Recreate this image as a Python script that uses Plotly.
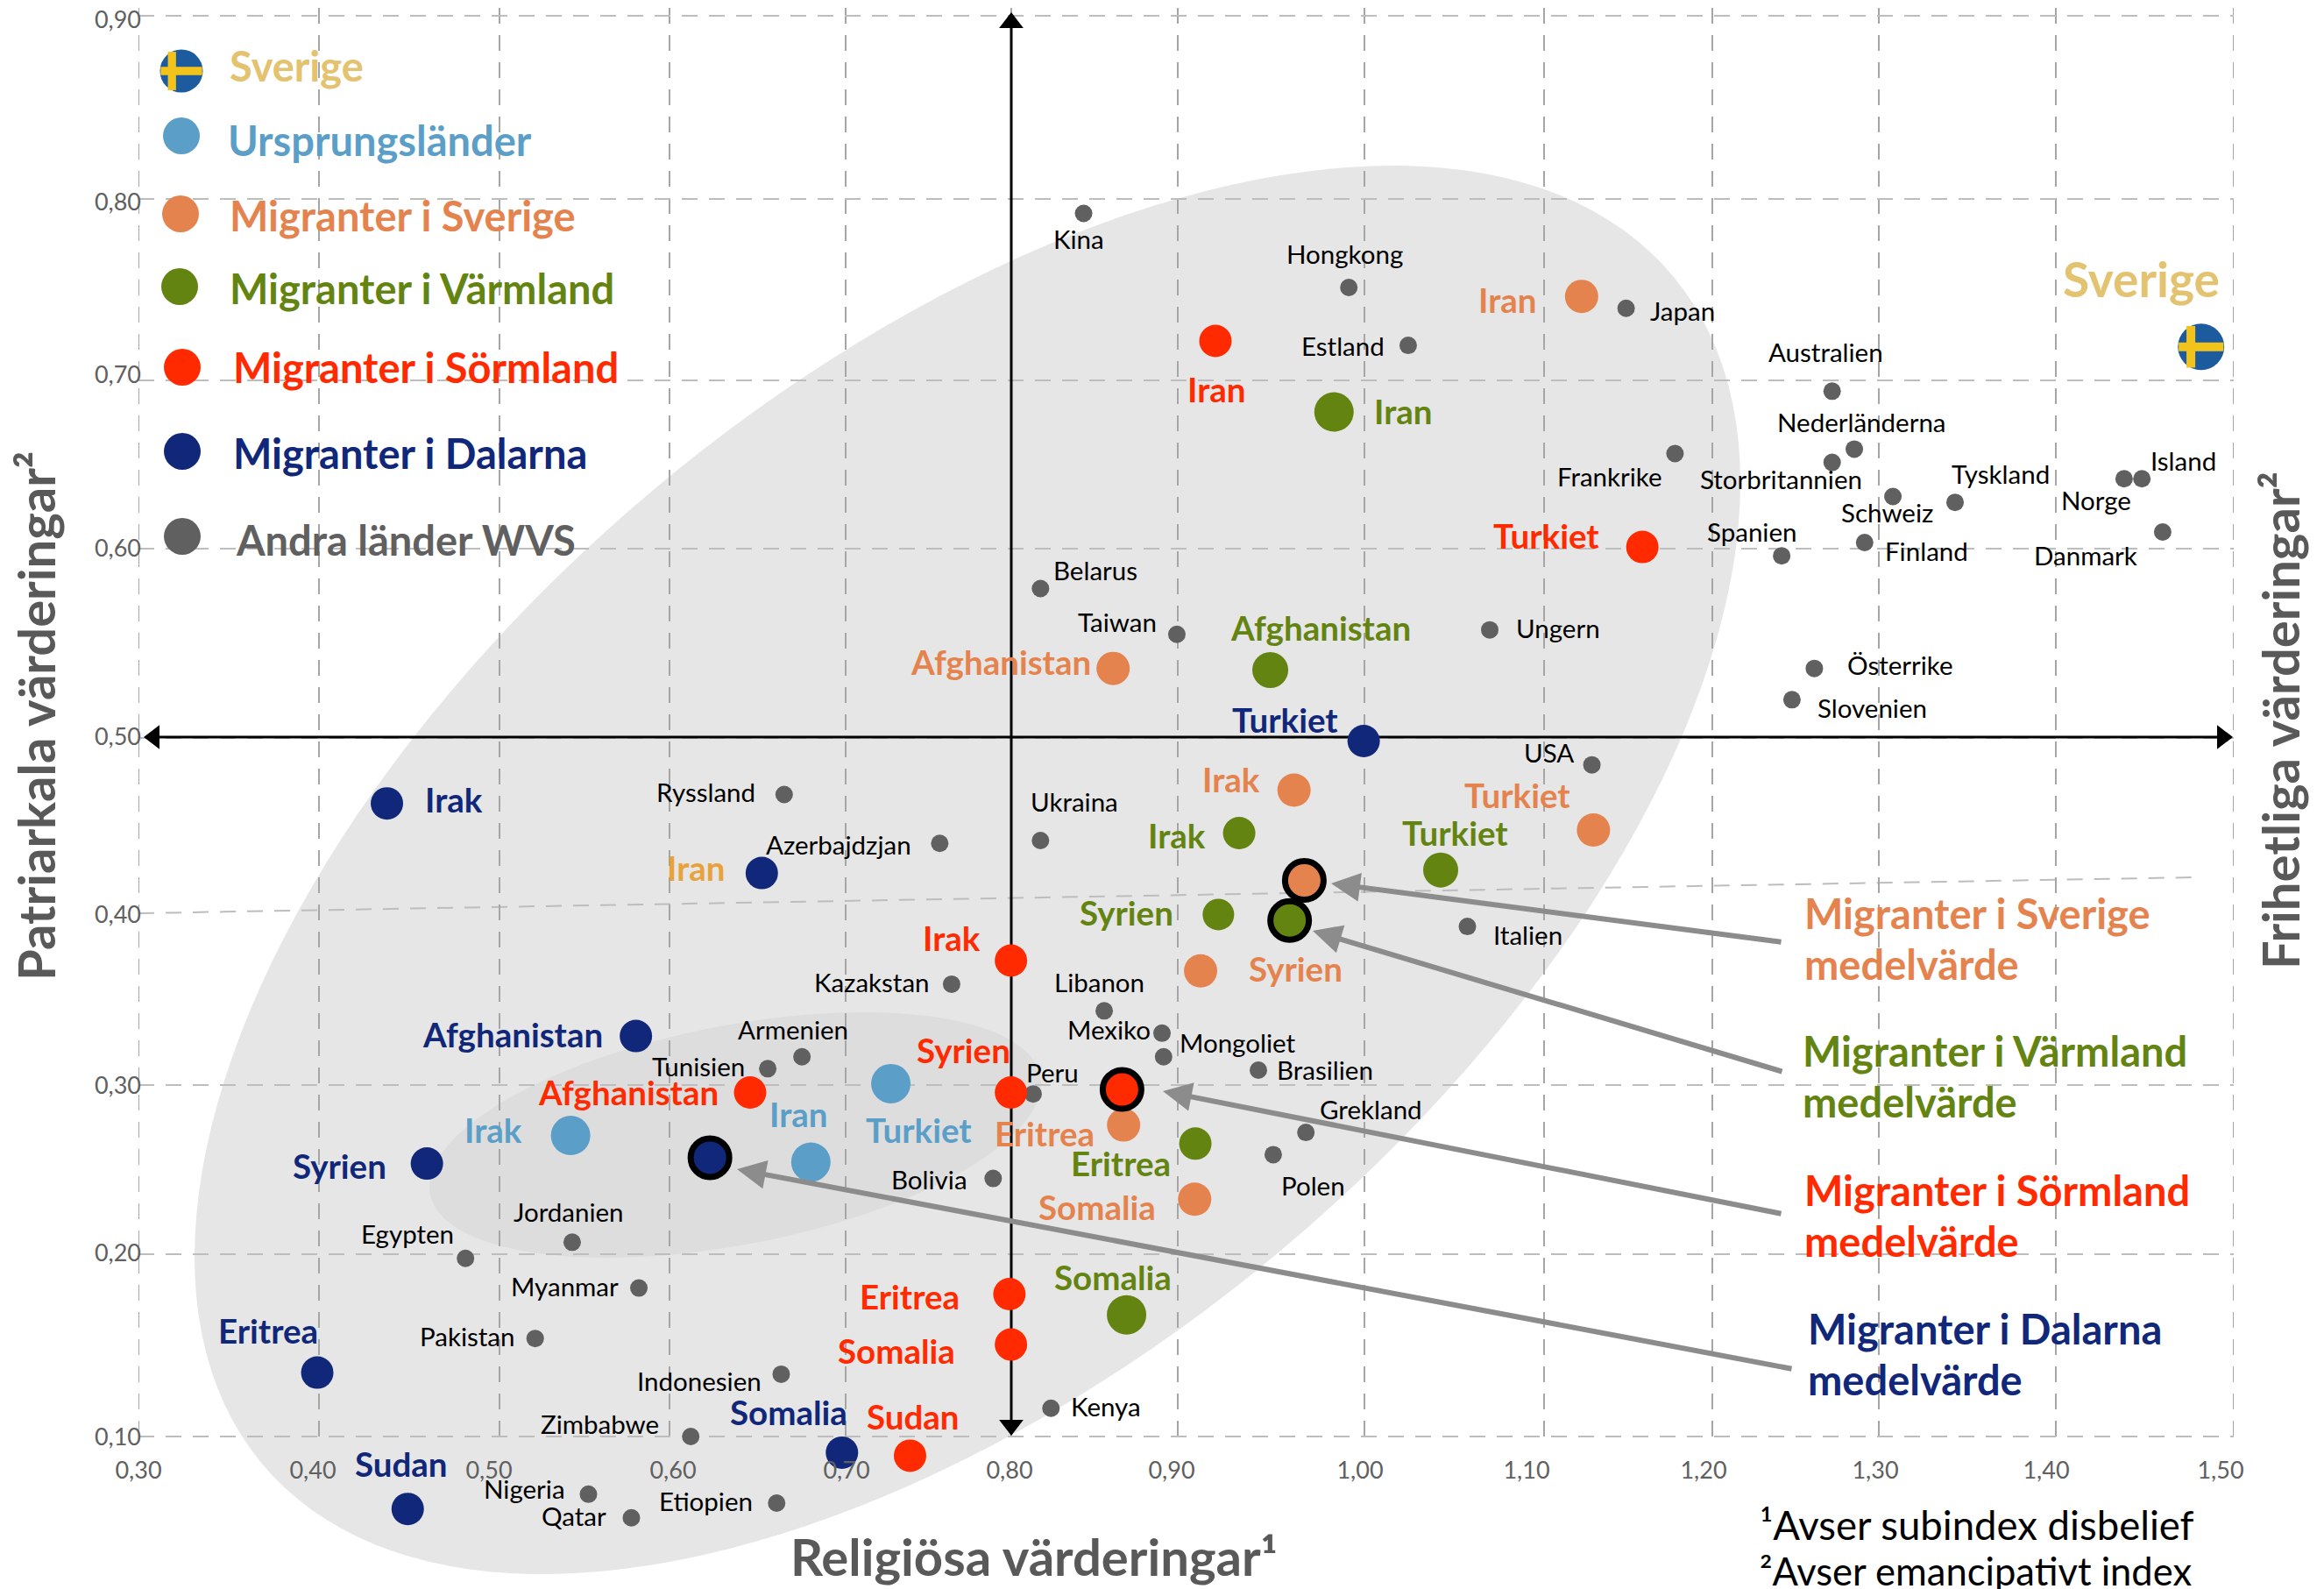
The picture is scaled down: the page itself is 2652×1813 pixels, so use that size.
import numpy as np
import plotly.graph_objects as go

# ---------- DATA (on the chart's own axes) ----------
WVS_NAMES = ["Kina","Hongkong","Japan","Estland","Australien","Frankrike","Nederländerna","Storbritannien","Schweiz","Tyskland","Norge","Island","Danmark","Spanien","Finland","Belarus","Taiwan","Ungern","Österrike","Slovenien","USA","Ryssland","Azerbajdzjan","Ukraina","Italien","Kazakstan","Libanon","Mexiko","Mongoliet","Brasilien","Armenien","Tunisien","Peru","Grekland","Polen","Bolivia","Jordanien","Egypten","Myanmar","Pakistan","Indonesien","Kenya","Zimbabwe","Nigeria","Qatar","Etiopien"]
WVS_X = [.8413,.9932,1.1520,1.0272,1.2700,1.1800,1.2827,1.2700,1.3048,1.3404,1.4372,1.4474,1.4593,1.2411,1.2886,.8166,.8947,1.0739,1.2598,1.2470,1.1324,.6698,.7589,.8166,1.0611,.7657,.8531,.8862,.8871,.9414,.6800,.6604,.8124,.9686,.9499,.7895,.5484,.4873,.5866,.5272,.6681,.8226,.6163,.5577,.5823,.6655]
WVS_Y = [.7887,.7470,.7353,.7144,.6886,.6535,.6560,.6485,.6293,.6260,.6393,.6393,.6093,.5959,.6034,.5775,.5517,.5542,.5325,.5149,.4782,.4615,.4340,.4356,.3872,.3547,.3397,.3271,.3138,.3063,.3138,.3071,.2929,.2712,.2587,.2453,.2094,.2003,.1836,.1552,.1351,.1159,.1000,.0675,.0542,.0625]

ORIGIN_NAMES = ["Irak","Iran","Turkiet"]
ORIGIN_X = [.5475,.6851,.7309]
ORIGIN_Y = [.2695,.2545,.2987]

SVERIGE_NAMES = ["Iran","Afghanistan","Irak","Turkiet","Syrien","Eritrea","Somalia"]
SVERIGE_X = [1.1265,.8582,.9618,1.1333,.9083,.8642,.9049]
SVERIGE_Y = [.7420,.5325,.4640,.4415,.3622,.2754,.2336]

VARMLAND_NAMES = ["Iran","Afghanistan","Irak","Turkiet","Syrien","Eritrea","Somalia"]
VARMLAND_X = [.9847,.9482,.9304,1.0458,.9185,.9053,.8659]
VARMLAND_Y = [.6769,.5316,.4398,.4190,.3939,.2649,.1685]

SORMLAND_NAMES = ["Iran","Turkiet","Irak","Afghanistan","Syrien","Eritrea","Somalia","Sudan"]
SORMLAND_X = [.9168,1.1613,.7997,.6503,.7997,.7988,.7997,.7419]
SORMLAND_Y = [.7169,.6009,.3680,.2937,.2937,.1802,.1518,.0892]

DALARNA_NAMES = ["Irak","Iran","Turkiet","Afghanistan","Syrien","Eritrea","Somalia","Sudan"]
DALARNA_X = [.4423,.6570,1.0017,.5849,.4652,.4024,.7029,.4542]
DALARNA_Y = [.4565,.4173,.4916,.3255,.2537,.1360,.0909,.0592]

MEAN_GROUPS = ["Migranter i Sverige","Migranter i Värmland","Migranter i Sörmland","Migranter i Dalarna"]
MEAN_X = [.9677,.9593,.8633,.6273]
MEAN_Y = [.4131,.3906,.2954,.2570]

SWEDEN_X = [1.4813]
SWEDEN_Y = [.7136]

TICK_TEXT_X = ["0,30","0,40","0,50","0,60","0,70","0,80","0,90","1,00","1,10","1,20","1,30","1,40","1,50"]
TICK_TEXT_Y = ["0,90","0,80","0,70","0,60","0,50","0,40","0,30","0,20","0,10"]

# ---------- LAYOUT GEOMETRY (page pixels of the 2652x1813 picture) ----------
W, H = 2652, 1813
L, R, B = 158, 2549, 1639
FONT = "Lato"
K = 2652 / 1568
UNIT_X = 1992.5
UNIT_Y = 2026.25

def px2x(px): return 0.30 + (px - L) / UNIT_X
def py2y(py): return 0.10 + (B - py) / UNIT_Y
def pxp(px): return (px - L) / (R - L)
def pyp(py): return (H - py) / H

GRID_PX_X = [158,364,570,764,965,1154,1344,1557,1762,1954,2144,2346,2549]
GRID_PX_Y = [18,227,434,626,842,1238,1431,1639]
LABEL_PX_X = [158,357,558,768,966,1152,1337,1552,1742,1944,2140,2335,2534]
LABEL_PX_Y = [23,231,428,626,841,1044,1239,1430,1640]

C_ORIGIN, C_SVERIGE, C_VARM, C_SORM, C_DAL = "#5B9FC8", "#E5834F", "#648412", "#FF2A00", "#10277A"
C_GRAY, C_SWE = "#606060", "#E3C270"
DASH = "18px,13px"

LP_WVS = [(728,162),(907,172),(1135,210),(906,234),(1232,238),(1086,322),(1256,285),(1202,324),(1273,346),(1350,320),(1414,338),(1473,311),(1407,375),(1182,359),(1300,372),(739,385),(754,420),(1051,424),(1282,449),(1263,478),(1045,508),(476,535),(566,570),(725,541),(1031,631),(588,663),(742,663),(748,695),(835,704),(894,722),(535,695),(471,720),(710,724),(925,749),(886,800),(627,796),(384,818),(275,833),(381,868),(315,902),(472,932),(746,949),(405,961),(354,1005),(387,1023),(476,1013)]
LP_ORIGIN = [(333,763),(539,752),(620,763)]
LP_SVERIGE = [(1017,203),(675,447),(831,526),(1024,537),(874,654),(705,765),(740,815)]
LP_VARM = [(947,278),(891,424),(794,564),(982,562),(760,616),(756,785),(751,862)]
LP_SORM = [(821,263),(1043,362),(642,633),(424,737),(650,709),(614,875),(605,912),(616,956)]
LP_DAL = [(306,540),(470,586),(867,486),(346,698),(229,787),(181,898),(532,953),(271,988)]

fig = go.Figure()

def markers(x, y, color, size, name, symbol="circle", line=None):
    fig.add_trace(go.Scatter(x=x, y=y, mode="markers", name=name, showlegend=False, cliponaxis=False,
                             marker=dict(size=size, color=color, symbol=symbol, opacity=1,
                                         line=line or dict(width=0))))

# background ellipses
def ellipse(cx, cy, ax, ay, rho):
    t = np.linspace(0, 2*np.pi, 181)[:-1]
    xs = cx + ax*np.cos(t)
    ys = cy - ay*(rho*np.cos(t) + np.sqrt(1-rho**2)*np.sin(t))
    return "M " + " L ".join(f"{pxp(a):.5f},{pyp(b):.5f}" for a, b in zip(xs, ys)) + " Z"

shapes = [
    dict(type="path", path=ellipse(1104, 992.5, 882, 803.5, 0.55), xref="paper", yref="paper",
         fillcolor="#E6E6E6", line=dict(width=0), layer="below"),
    dict(type="path", path=ellipse(839, 1295, 349, 140, 0.42), xref="paper", yref="paper",
         fillcolor="#DDDDDD", line=dict(width=0), layer="below"),
    dict(type="line", xref="x", yref="y", x0=px2x(158), y0=py2y(1042), x1=px2x(2505), y1=py2y(1001),
         line=dict(color="#BDBDBD", width=2, dash=DASH), layer="below"),
]
for gx in GRID_PX_X:
    shapes.append(dict(type="line", xref="x", yref="y", x0=px2x(gx), x1=px2x(gx), y0=py2y(1639), y1=py2y(0),
                       line=dict(color="#A6A6A6", width=2, dash=DASH), layer="below"))

# black axes with arrow heads
fig.add_trace(go.Scatter(x=[px2x(170), px2x(2535)], y=[py2y(841)]*2, mode="lines", showlegend=False,
                         line=dict(color="black", width=3), cliponaxis=False))
fig.add_trace(go.Scatter(x=[px2x(1154)]*2, y=[py2y(25), py2y(1625)], mode="lines", showlegend=False,
                         line=dict(color="black", width=3), cliponaxis=False))
markers([px2x(176)], [py2y(841)], "black", 24, "pil", "triangle-left")
markers([px2x(2536)], [py2y(841)], "black", 24, "pil", "triangle-right")
markers([px2x(1154)], [py2y(26)], "black", 24, "pil", "triangle-up")
markers([px2x(1154)], [py2y(1626)], "black", 24, "pil", "triangle-down")

# series
markers(WVS_X, WVS_Y, C_GRAY, 20, "Andra länder WVS")
markers(ORIGIN_X, ORIGIN_Y, C_ORIGIN, 45, "Ursprungsländer")
markers(SVERIGE_X, SVERIGE_Y, C_SVERIGE, 38, "Migranter i Sverige")
markers(VARMLAND_X, VARMLAND_Y, C_VARM, [45,41,37,40,36,37,45], "Migranter i Värmland")
markers(SORMLAND_X, SORMLAND_Y, C_SORM, 37, "Migranter i Sörmland")
markers(DALARNA_X, DALARNA_Y, C_DAL, 37, "Migranter i Dalarna")
for i, c in enumerate([C_SVERIGE, C_VARM, C_SORM, C_DAL]):
    markers([MEAN_X[i]], [MEAN_Y[i]], c, 44, MEAN_GROUPS[i] + " medelvärde", line=dict(color="black", width=7))

# Swedish flag discs (chart point + legend key)
def flag(x, y, size):
    markers(x, y, "#1C5C9E", size, "Sverige")
    dx = -size * 0.22 / UNIT_X
    markers([x[0] + dx], y, "#F2C31B", size*0.64, "Sverige", "line-ns", dict(color="#F2C31B", width=size*0.19))
    markers(x, y, "#F2C31B", size*0.69, "Sverige", "line-ew", dict(color="#F2C31B", width=size*0.19))
flag(SWEDEN_X, SWEDEN_Y, 53)
flag([px2x(207)], [py2y(81)], 49)

# legend keys
LEG_COLORS = [C_ORIGIN, C_SVERIGE, C_VARM, C_SORM, C_DAL, C_GRAY]
LEG_PY = [155, 244, 327, 419, 515, 612]
LEG_PX = [207, 206, 205, 208, 208, 208]
fig.add_trace(go.Scatter(x=[px2x(a) for a in LEG_PX], y=[py2y(b) for b in LEG_PY], mode="markers",
                         showlegend=False, cliponaxis=False,
                         marker=dict(size=42, color=LEG_COLORS, line=dict(width=0))))

# invisible trace carrying the label axes
fig.add_trace(go.Scatter(x=[0.3], y=[0.1], xaxis="x2", yaxis="y2", mode="markers",
                         marker=dict(opacity=0), showlegend=False, hoverinfo="skip"))

ann = []
def text(s, px, py, color, size, weight="normal", anchor="center", angle=0):
    ann.append(dict(text=s, xref="paper", yref="paper", x=pxp(px), y=pyp(py), xanchor=anchor, yanchor="middle",
                    showarrow=False, textangle=angle,
                    font=dict(family=FONT, size=size, color=color, weight=weight)))

def labels(names, pos, color, size=27, weight="normal"):
    for n, (sx, sy) in zip(names, pos):
        text(n, sx*K, sy*K - 1, color, size, weight)

SERIES_FS = 38.5
labels(WVS_NAMES, LP_WVS, "black", 29.5)
labels(ORIGIN_NAMES, LP_ORIGIN, C_ORIGIN, SERIES_FS, "bold")
labels(SVERIGE_NAMES, LP_SVERIGE, C_SVERIGE, SERIES_FS, "bold")
labels(VARMLAND_NAMES, LP_VARM, C_VARM, SERIES_FS, "bold")
labels(SORMLAND_NAMES, LP_SORM, C_SORM, SERIES_FS, "bold")
labels(DALARNA_NAMES, LP_DAL, C_DAL, SERIES_FS, "bold")
ann[-7]["font"]["color"] = "#E9A23B"  # "Iran" next to the Dalarna dot is amber in the original

text("Sverige", 1445*K, 188*K, C_SWE, 55, "bold")

# legend text
LEG_FS = 47
text("Sverige", 260, 75, C_SWE, LEG_FS, "bold", "left")
text("Ursprungsländer", 258, 160, C_ORIGIN, LEG_FS, "bold", "left")
text("Migranter i Sverige", 260, 246, C_SVERIGE, LEG_FS, "bold", "left")
text("Migranter i Värmland", 260, 329, C_VARM, LEG_FS, "bold", "left")
text("Migranter i Sörmland", 264, 419, C_SORM, LEG_FS, "bold", "left")
text("Migranter i Dalarna", 264, 517, C_DAL, LEG_FS, "bold", "left")
text("Andra länder WVS", 267, 616, C_GRAY, LEG_FS, "bold", "left")

# mean call-outs
CALL_FS = 47
for name, c, x0, y1 in [("Migranter i Sverige", C_SVERIGE, 2057, 1042), ("Migranter i Värmland", C_VARM, 2055, 1199),
                        ("Migranter i Sörmland", C_SORM, 2057, 1358), ("Migranter i Dalarna", C_DAL, 2061, 1516)]:
    text(name, x0, y1, c, CALL_FS, "bold", "left")
    text("medelvärde", x0, y1 + 58, c, CALL_FS, "bold", "left")

for (tx, ty, hx, hy) in [(2034,1075,1519,1008), (2035,1223,1498,1062), (2034,1385,1327,1245), (2046,1562,841,1334)]:
    ann.append(dict(text="", xref="paper", yref="paper", x=pxp(hx), y=pyp(hy), axref="pixel", ayref="pixel",
                    ax=tx-hx, ay=ty-hy, showarrow=True, arrowhead=2, arrowsize=1.1, arrowwidth=6,
                    arrowcolor="#8C8C8C", standoff=0))

# axis titles and foot notes
TITLE_FS = 58
text("Religiösa värderingar¹", 1180, 1775, "#595959", TITLE_FS, "bold")
text("Patriarkala värderingar²", 40, 817, "#595959", TITLE_FS, "bold", angle=-90)
text("Frihetliga värderingar²", 2602, 822, "#595959", TITLE_FS, "bold", angle=-90)
text("¹Avser subindex disbelief", 2006, 1739, "black", 45.5, "normal", "left")
text("²Avser emancipativt index", 2006, 1792, "black", 43.5, "normal", "left")

axis_common = dict(zeroline=False, showline=False)
Y_RANGE = [py2y(H), py2y(0)]
X_RANGE = [0.30, px2x(R)]
fig.update_layout(
    width=W, height=H, autosize=False, showlegend=False,
    margin=dict(l=L, r=W-R, t=0, b=0, pad=0),
    paper_bgcolor="white", plot_bgcolor="rgba(0,0,0,0)",
    font=dict(family=FONT),
    shapes=shapes, annotations=ann,
    xaxis=dict(range=X_RANGE, showticklabels=False, ticks="", showgrid=False, **axis_common),
    yaxis=dict(range=Y_RANGE, tickmode="array", tickvals=[py2y(p) for p in GRID_PX_Y],
               showticklabels=False, ticks="", showgrid=True, gridcolor="#BDBDBD", gridwidth=2,
               griddash=DASH, **axis_common),
    xaxis2=dict(range=X_RANGE, overlaying="x", anchor="free", position=(H-B)/H, side="bottom", tickmode="array",
                tickvals=[px2x(p) for p in LABEL_PX_X], ticktext=TICK_TEXT_X, showgrid=False,
                ticks="outside", ticklen=15, tickwidth=0, tickcolor="rgba(0,0,0,0)",
                tickfont=dict(family=FONT, size=27, color=C_GRAY), **axis_common),
    yaxis2=dict(range=Y_RANGE, overlaying="y", anchor="x2", side="left", tickmode="array",
                tickvals=[py2y(p) for p in LABEL_PX_Y], ticktext=TICK_TEXT_Y, showgrid=False,
                ticks="", ticklabelstandoff=-4,
                tickfont=dict(family=FONT, size=27, color=C_GRAY), **axis_common),
)

fig.write_html("out.html", post_script="document.body.style.margin='0';",
               config=dict(displayModeBar=False))
